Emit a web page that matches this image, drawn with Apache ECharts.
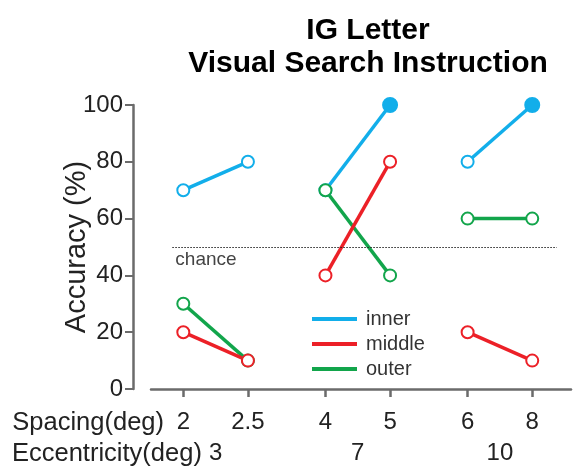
<!DOCTYPE html>
<html>
<head>
<meta charset="utf-8">
<script src="https://cdn.jsdelivr.net/npm/echarts@6/dist/echarts.min.js"></script>
<style>html,body{margin:0;padding:0;background:#fff}#c{width:574px;height:468px}</style>
</head>
<body>
<div id="c"></div>
<script>
const spacingLabels = ['2', '2.5', '4', '5', '6', '8'];
const eccLabels = ['3', '7', '10'];
const innerVals = [70, 80, 70, 100, 80, 100];
const middleVals = [20, 10, 40, 80, 20, 10];
const outerVals = [30, 10, 70, 40, 60, 60];
const innerFilled = [false, false, false, true, false, true];
const chanceLevel = 50;

const FONT = 'Liberation Sans, Arial, sans-serif';
const GROUP_STEP = 2.2;
const xPos = i => Math.floor(i / 2) * GROUP_STEP + (i % 2);
const tickVals = spacingLabels.map((_, i) => xPos(i));
const eccVals = eccLabels.map((_, g) => g * GROUP_STEP + 0.5);

const colors = { inner: '#12AEEA', middle: '#EC2027', outer: '#12A54B' };
const seriesDefs = [
  { name: 'inner', vals: innerVals, filled: innerFilled },
  { name: 'outer', vals: outerVals },
  { name: 'middle', vals: middleVals }
];

const series = [];
seriesDefs.forEach(def => {
  for (let g = 0; g < eccLabels.length; g++) {
    const data = [2 * g, 2 * g + 1].map(i => {
      const filled = def.filled && def.filled[i];
      return {
        value: [xPos(i), def.vals[i]],
        symbolSize: filled ? 14 : 12,
        itemStyle: { color: filled ? colors[def.name] : '#fff', borderColor: colors[def.name], borderWidth: 2 }
      };
    });
    series.push({
      type: 'line', name: def.name, data, symbol: 'circle', showSymbol: true,
      lineStyle: { color: colors[def.name], width: 3.5 },
      itemStyle: { color: colors[def.name] },
      z: 3, silent: true, animation: false
    });
  }
});
series[0].markLine = {
  silent: true, symbol: 'none', animation: false,
  lineStyle: { type: [1.5, 1.5], color: '#222', width: 1 },
  label: { show: true, position: 'insideStartBottom', formatter: 'chance', fontFamily: FONT, fontSize: 19, color: '#444', distance: 3 },
  data: [[{ coord: [-0.17, chanceLevel] }, { coord: [5.78, chanceLevel] }]]
};

const chart = echarts.init(document.getElementById('c'), null, { renderer: 'canvas' });
chart.setOption({
  animation: false,
  backgroundColor: '#fff',
  title: {
    text: 'IG Letter\nVisual Search Instruction',
    left: 363, top: 9, textAlign: 'center',
    textStyle: { fontFamily: FONT, fontWeight: 'bold', fontSize: 30, lineHeight: 33, color: '#000' }
  },
  legend: {
    orient: 'vertical', left: 307, top: 304, itemWidth: 45, itemHeight: 4, itemGap: 5,
    textStyle: { fontFamily: FONT, fontSize: 20, color: '#333', padding: [0, 0, 0, 4] },
    data: ['inner', 'middle', 'outer'].map(n => ({ name: n, icon: 'rect', itemStyle: { color: colors[n], borderWidth: 0 } }))
  },
  grid: { left: 151, right: 3, top: 105, bottom: 79, containLabel: false },
  xAxis: [{
    type: 'value', min: -0.5, max: 6.0, position: 'bottom',
    axisLine: { show: true, onZero: false, lineStyle: { color: '#6b6b6b', width: 2.5 } },
    axisTick: { show: true, customValues: tickVals, length: 8, lineStyle: { color: '#6b6b6b', width: 2.5 } },
    axisLabel: { customValues: tickVals, margin: 21, fontFamily: FONT, fontSize: 24, color: '#222',
      formatter: v => spacingLabels[tickVals.findIndex(t => Math.abs(t - v) < 1e-6)] || '' },
    splitLine: { show: false }
  }, {
    type: 'value', min: -0.5, max: 6.0, position: 'bottom', offset: 31,
    axisLine: { show: false }, axisTick: { show: false },
    axisLabel: { customValues: eccVals, margin: 21, fontFamily: FONT, fontSize: 24, color: '#222',
      formatter: v => eccLabels[eccVals.findIndex(t => Math.abs(t - v) < 1e-6)] || '' },
    splitLine: { show: false }
  }],
  yAxis: {
    type: 'value', min: 0, max: 100, interval: 20, offset: 18,
    name: 'Accuracy (%)', nameLocation: 'middle', nameGap: 42, nameMoveOverlap: false,
    nameTextStyle: { fontFamily: FONT, fontSize: 29, color: '#222' },
    axisLine: { show: true, onZero: false, lineStyle: { color: '#6b6b6b', width: 2.5 } },
    axisTick: { show: true, length: 8, lineStyle: { color: '#6b6b6b', width: 2 } },
    axisLabel: { margin: 10, fontFamily: FONT, fontSize: 24, color: '#222' },
    splitLine: { show: false }
  },
  graphic: [
    { type: 'text', right: 574 - 164, top: 410, style: { text: 'Spacing(deg)', font: '25.5px ' + FONT, fill: '#222', textAlign: 'right' } },
    { type: 'text', left: 12, top: 441, style: { text: 'Eccentricity(deg)', font: '25.5px ' + FONT, fill: '#222' } }
  ],
  series
});
</script>
</body>
</html>
